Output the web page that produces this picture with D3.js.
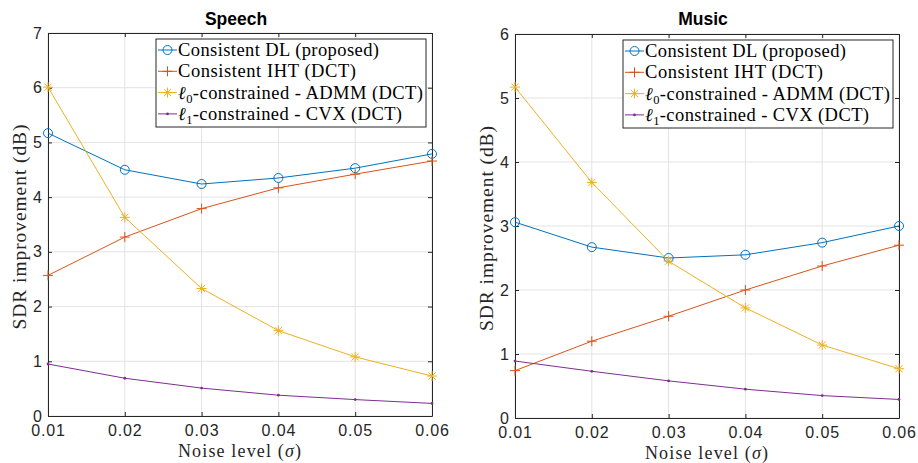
<!DOCTYPE html>
<html><head><meta charset="utf-8">
<script src="https://cdn.jsdelivr.net/npm/d3@7"></script>
<style>body{margin:0;background:#fff}</style>
</head><body><svg id="c" width="918" height="463"></svg>
<script>
const noise = [0.01, 0.02, 0.03, 0.04, 0.05, 0.06];
const xTicks = [0.01, 0.02, 0.03, 0.04, 0.05, 0.06];
const seriesNames = ["Consistent DL (proposed)", "Consistent IHT (DCT)", "ℓ0-constrained - ADMM (DCT)", "ℓ1-constrained - CVX (DCT)"];
const speechDL   = [5.17, 4.50, 4.24, 4.35, 4.53, 4.79];
const speechIHT  = [2.57, 3.27, 3.79, 4.17, 4.42, 4.66];
const speechADMM = [6.01, 3.63, 2.33, 1.56, 1.08, 0.73];
const speechCVX  = [0.95, 0.69, 0.51, 0.38, 0.30, 0.23];
const musicDL    = [3.06, 2.67, 2.50, 2.55, 2.74, 3.00];
const musicIHT   = [0.74, 1.20, 1.59, 2.00, 2.375, 2.70];
const musicADMM  = [5.17, 3.68, 2.45, 1.72, 1.14, 0.77];
const musicCVX   = [0.89, 0.73, 0.58, 0.45, 0.35, 0.29];
const speechYTicks = [0,1,2,3,4,5,6,7];
const musicYTicks  = [0,1,2,3,4,5,6];

const colors = ["#0072BD", "#D95319", "#EDB120", "#7E2F8E"];
const markers = ["circle", "plus", "star", "dot"];
const legendWidths = [201, 178, 245, 224];
const svg = d3.select("#c");
const serif = "'Liberation Serif','DejaVu Serif',serif";
const sans = "'Liberation Sans',Arial,sans-serif";

function fitWidth(sel, target) {
  const node = sel.node();
  const w = node.getComputedTextLength();
  const n = node.textContent.length;
  if (n > 1) sel.style("letter-spacing", ((target - w) / (n - 1)) + "px");
}

function drawMarker(g, type, x, y, color) {
  if (type === "circle") {
    g.append("circle").attr("cx", x).attr("cy", y).attr("r", 4.5)
      .attr("fill", "none").attr("stroke", color).attr("stroke-width", 1);
  } else if (type === "plus") {
    g.append("path").attr("d", `M${x-5},${y}H${x+5}M${x},${y-5}V${y+5}`)
      .attr("stroke", color).attr("stroke-width", 1).attr("fill", "none");
  } else if (type === "star") {
    const r = 5, d = r * 0.72;
    g.append("path").attr("d", `M${x-r},${y}H${x+r}M${x},${y-r}V${y+r}M${x-d},${y-d}L${x+d},${y+d}M${x-d},${y+d}L${x+d},${y-d}`)
      .attr("stroke", color).attr("stroke-width", 1).attr("fill", "none");
  } else {
    g.append("circle").attr("cx", x).attr("cy", y).attr("r", 1.4).attr("fill", color);
  }
}

function panel(o) {
  const x = d3.scaleLinear().domain([0.01, 0.06]).range([o.x0, o.x1]);
  const y = d3.scaleLinear().domain([0, o.ymax]).range([o.y1, o.y0]);
  const g = svg.append("g");
  // grid
  g.append("g").selectAll("line").data(xTicks).join("line")
    .attr("x1", d => x(d)).attr("x2", d => x(d)).attr("y1", o.y0).attr("y2", o.y1)
    .attr("stroke", "#e3e3e3").attr("stroke-width", 1);
  g.append("g").selectAll("line").data(o.yTicks).join("line")
    .attr("y1", d => y(d)).attr("y2", d => y(d)).attr("x1", o.x0).attr("x2", o.x1)
    .attr("stroke", "#e3e3e3").attr("stroke-width", 1);
  // axes
  const tl = 4;
  const ax = d3.axisBottom(x).tickValues(xTicks).tickFormat(d3.format(".2f")).tickSizeInner(-tl).tickSizeOuter(0).tickPadding(10);
  const ay = d3.axisLeft(y).tickValues(o.yTicks).tickFormat(d3.format("d")).tickSizeInner(-tl).tickSizeOuter(0).tickPadding(6);
  const axT = d3.axisTop(x).tickValues(xTicks).tickFormat("").tickSizeInner(-tl).tickSizeOuter(0);
  const ayR = d3.axisRight(y).tickValues(o.yTicks).tickFormat("").tickSizeInner(-tl).tickSizeOuter(0);
  const styleAx = s => {
    s.selectAll("path,line").attr("stroke", "#262626");
    s.selectAll("text").attr("fill", "#262626").style("font-family", sans).style("font-size", "16px");
  };
  g.append("g").attr("transform", `translate(0,${o.y1})`).call(ax).call(styleAx)
    .selectAll("text").attr("dy", null).attr("y", 20).style("letter-spacing", "0.9px");
  g.append("g").attr("transform", `translate(${o.x0},0)`).call(ay).call(styleAx);
  g.append("g").attr("transform", `translate(0,${o.y0})`).call(axT).call(styleAx);
  g.append("g").attr("transform", `translate(${o.x1},0)`).call(ayR).call(styleAx);
  g.selectAll(".domain").attr("stroke", "#262626");
  // series
  o.series.forEach((vals, i) => {
    const pts = noise.map((n, j) => [x(n), y(vals[j])]);
    g.append("path").attr("d", d3.line()(pts)).attr("fill", "none")
      .attr("stroke", colors[i]).attr("stroke-width", 1);
    pts.forEach(p => drawMarker(g, markers[i], p[0], p[1], colors[i]));
  });
  // title
  g.append("text").attr("x", (o.x0 + o.x1) / 2 - 4).attr("y", 25).attr("text-anchor", "middle")
    .style("font-family", sans).style("font-weight", "bold").style("font-size", "17.5px").attr("fill", "#000").text(o.title);
  // x label
  const xl = g.append("text").attr("x", (o.x0 + o.x1) / 2).attr("y", o.y1 + 41).attr("text-anchor", "middle")
    .style("font-family", serif).style("font-size", "18px").attr("fill", "#262626");
  xl.append("tspan").text("Noise level (");
  xl.append("tspan").style("font-style", "italic").text("σ");
  xl.append("tspan").text(")");
  fitWidth(xl, 123);
  // y label
  const yl = g.append("text").attr("transform", `translate(${o.ylx},${(o.y0 + o.y1) / 2 + 2}) rotate(-90)`)
    .attr("text-anchor", "middle").style("font-family", serif).style("font-size", "19.5px").attr("fill", "#262626")
    .text("SDR improvement (dB)");
  fitWidth(yl, 205);
  // legend
  const L = o.leg;
  g.append("rect").attr("x", L[0]).attr("y", L[1]).attr("width", L[2] - L[0]).attr("height", L[3] - L[1])
    .attr("fill", "#fff").attr("stroke", "#262626").attr("stroke-width", 1);
  seriesNames.forEach((name, i) => {
    const cy = L[1] + 11 + i * 21.3;
    g.append("line").attr("x1", L[0] + 2).attr("x2", L[0] + 21).attr("y1", cy).attr("y2", cy)
      .attr("stroke", colors[i]).attr("stroke-width", 1);
    drawMarker(g, markers[i], L[0] + 11.5, cy, colors[i]);
    const t = g.append("text").attr("x", L[0] + 22).attr("y", cy + 6)
      .style("font-family", serif).style("font-size", "18.5px").attr("fill", "#000");
    if (i >= 2) {
      t.append("tspan").style("font-style", "italic").text("ℓ");
      t.append("tspan").attr("dy", 4).style("font-size", "12.5px").text(i === 2 ? "0" : "1");
      t.append("tspan").attr("dy", -4).text(name.slice(2));
    } else {
      t.text(name);
    }
    fitWidth(t, legendWidths[i]);
  });
}

panel({title: "Speech", x0: 48, x1: 432, y0: 33, y1: 416, ymax: 7, yTicks: speechYTicks,
  series: [speechDL, speechIHT, speechADMM, speechCVX], leg: [156, 39, 426, 127], ylx: 26});
panel({title: "Music", x0: 515, x1: 899, y0: 34, y1: 418, ymax: 6, yTicks: musicYTicks,
  series: [musicDL, musicIHT, musicADMM, musicCVX], leg: [623, 40, 893, 128], ylx: 493});
</script></body></html>
